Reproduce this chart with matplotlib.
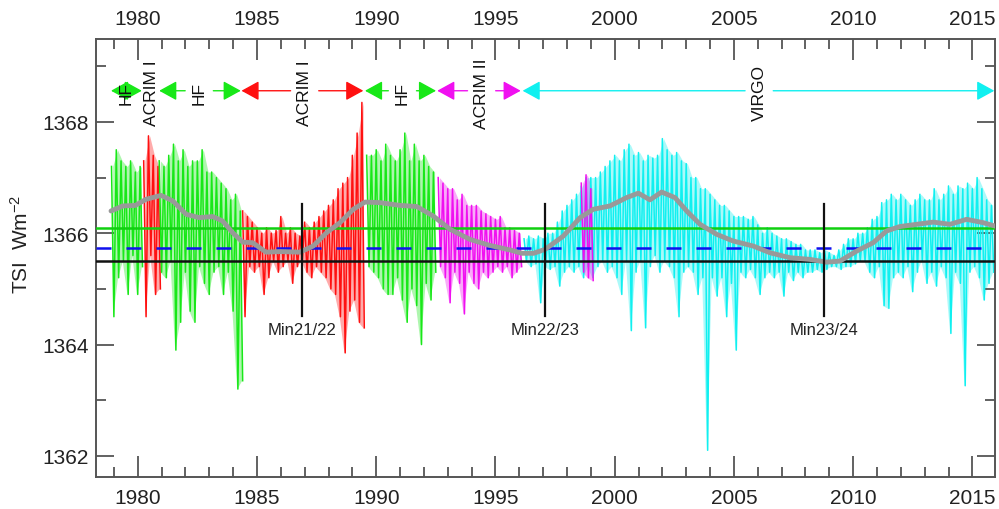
import matplotlib.pyplot as plt
import numpy as np

plt.rcParams['font.family'] = ['Liberation Sans', 'DejaVu Sans']
plt.rcParams['mathtext.fontset'] = 'custom'
plt.rcParams['mathtext.rm'] = 'Liberation Sans'
plt.rcParams['mathtext.it'] = 'Liberation Sans'

hf1_start = 1978.9
hf1_hi = [1367.2, 1367.5, 1367.3, 1367.2, 1367.3, 1367.1, 1367.2]
hf1_lo = [1364.5, 1365.2, 1365.5, 1364.9, 1365.6, 1364.9, 1365.4]

acrim1a_start = 1980.25
acrim1a_hi = [1367.3, 1367.75, 1367.4, 1367.2]
acrim1a_lo = [1364.5, 1365.6, 1364.9, 1365.0]

hf2_start = 1980.9
hf2_hi = [1367.3, 1367.2, 1367.4, 1367.6, 1367.3, 1367.5, 1367.2, 1367.3, 1367.3,
          1367.5, 1367.1, 1367.1, 1367.0, 1366.9, 1366.8, 1366.6, 1366.7, 1366.4]
hf2_lo = [1365.3, 1365.2, 1365.5, 1363.9, 1364.4, 1365.3, 1364.6, 1364.4, 1365.4,
          1365.1, 1364.9, 1365.3, 1365.4, 1364.9, 1365.3, 1364.6, 1363.2, 1363.35]

acrim1b_start = 1984.4
acrim1b_hi = [1366.4, 1366.3, 1366.2, 1366.1, 1366.0, 1366.1, 1366.0, 1366.05, 1366.3,
              1366.0, 1366.1, 1366.0, 1365.95, 1366.2, 1366.1, 1366.2, 1366.3, 1366.4,
              1366.5, 1366.6, 1366.8, 1366.9, 1367.0, 1367.4, 1367.8, 1368.35]
acrim1b_lo = [1364.5, 1365.4, 1365.3, 1365.4, 1364.9, 1365.2, 1365.5, 1365.3, 1365.4,
              1365.5, 1365.1, 1365.4, 1365.5, 1365.3, 1365.2, 1365.4, 1365.3, 1365.2,
              1365.0, 1364.9, 1364.5, 1363.85, 1364.6, 1364.8, 1364.4, 1364.3]

hf3_start = 1989.6
hf3_hi = [1367.4, 1367.4, 1367.5, 1367.3, 1367.6, 1367.4, 1367.3, 1367.5, 1367.8,
          1367.3, 1367.6, 1367.3, 1367.4, 1367.2, 1367.1]
hf3_lo = [1365.4, 1365.3, 1365.2, 1365.0, 1364.9, 1364.9, 1365.2, 1364.8, 1364.4,
          1365.0, 1364.7, 1364.0, 1365.1, 1364.8, 1365.3]

acrim2_start = 1992.6
acrim2_hi = [1367.0, 1366.9, 1366.8, 1366.8, 1366.6, 1366.7, 1366.5, 1366.5, 1366.5,
             1366.4, 1366.35, 1366.3, 1366.25, 1366.3, 1366.1, 1366.1, 1366.05, 1366.0]
acrim2_lo = [1365.4, 1365.2, 1364.75, 1365.3, 1365.1, 1364.55, 1365.3, 1365.1, 1365.0,
             1365.3, 1365.2, 1365.3, 1365.4, 1365.3, 1365.4, 1365.2, 1365.3, 1365.4]

acrim2b_start = 1998.6
acrim2b_hi = [1366.9, 1367.05, 1366.8]
acrim2b_lo = [1365.3, 1365.2, 1365.15]

virgo_start = 1996.2
virgo_hi = [1365.9, 1365.95, 1365.9, 1365.95, 1365.9,
            1366.0, 1366.0, 1366.2, 1366.4, 1366.5,
            1366.6, 1366.7, 1366.85, 1367.0, 1367.0,
            1367.0, 1367.1, 1367.2, 1367.3, 1367.4,
            1367.3, 1367.5, 1367.6, 1367.4, 1367.45,
            1367.3, 1367.4, 1367.35, 1367.4, 1367.7,
            1367.5, 1367.4, 1367.45, 1367.3, 1367.25,
            1367.0, 1367.0, 1366.8, 1366.8, 1366.7,
            1366.6, 1366.5, 1366.5, 1366.4, 1366.3,
            1366.3, 1366.3, 1366.25, 1366.3, 1366.15,
            1366.0, 1366.1, 1366.0, 1365.95, 1365.9,
            1365.9, 1365.85, 1365.8, 1365.8, 1365.7,
            1365.7, 1365.7, 1365.65, 1365.7, 1365.65,
            1365.6, 1365.7, 1365.8, 1365.9, 1365.9,
            1366.0, 1366.0, 1366.1, 1366.25, 1366.3,
            1366.55, 1366.6, 1366.7, 1366.6, 1366.7,
            1366.6, 1366.5, 1366.6, 1366.7, 1366.6,
            1366.6, 1366.8, 1366.6, 1366.7, 1366.85,
            1366.7, 1366.85, 1366.8, 1366.9, 1366.8,
            1367.0, 1366.8, 1366.6, 1366.5]
virgo_lo = [1365.5, 1365.4, 1365.45, 1364.75, 1365.4,
            1365.35, 1365.4, 1365.05, 1365.3, 1365.4,
            1365.3, 1365.4, 1365.2, 1365.4, 1365.2,
            1365.4, 1365.5, 1365.3, 1365.4, 1365.2,
            1364.9, 1365.5, 1364.25, 1365.3, 1365.5,
            1364.3, 1365.4, 1365.6, 1365.3, 1365.5,
            1365.4, 1365.2, 1364.5, 1365.3, 1365.4,
            1365.3, 1364.9, 1365.2, 1362.1, 1365.2,
            1364.87, 1365.2, 1364.5, 1365.1, 1363.9,
            1365.3, 1365.2, 1365.35, 1365.2, 1364.9,
            1365.2, 1365.3, 1365.2, 1365.3, 1364.87,
            1365.3, 1365.15, 1365.3, 1365.2, 1365.3,
            1365.3, 1365.35, 1365.3, 1365.35, 1365.4,
            1365.4, 1365.35, 1365.4, 1365.4, 1365.45,
            1365.5, 1365.5, 1365.3, 1365.2, 1365.4,
            1364.7, 1364.65, 1365.2, 1365.3, 1365.2,
            1365.4, 1364.95, 1365.3, 1365.5, 1365.1,
            1365.3, 1365.05, 1365.4, 1365.2, 1364.2,
            1365.3, 1365.1, 1363.26, 1365.3, 1365.4,
            1365.2, 1364.8, 1365.1, 1365.3]

# 81-day running mean (grey)
smooth_year = [1978.88, 1979.37, 1979.9, 1980.35, 1980.98, 1981.47, 1982.03, 1982.58,
               1983.14, 1983.56, 1983.98, 1984.40, 1984.82, 1985.38, 1985.97, 1986.80,
               1987.36, 1987.92, 1988.48, 1989.04, 1989.53, 1990.16, 1991.00, 1991.70,
               1992.39, 1993.10, 1993.93, 1994.77, 1995.61, 1996.10, 1996.60, 1997.08,
               1997.85, 1998.55, 1999.10, 1999.80, 2000.50, 2000.99, 2001.48, 2001.97,
               2002.53, 2003.02, 2003.58, 2004.28, 2004.97, 2005.81, 2006.51, 2007.35,
               2008.19, 2008.89, 2009.45, 2010.15, 2010.84, 2011.40, 2011.96, 2012.66,
               2013.36, 2014.06, 2014.76, 2015.45, 2015.94]
smooth_tsi = [1366.40, 1366.49, 1366.50, 1366.61, 1366.68, 1366.58, 1366.34, 1366.28,
              1366.30, 1366.22, 1366.01, 1365.84, 1365.83, 1365.66, 1365.67, 1365.66,
              1365.77, 1366.01, 1366.19, 1366.43, 1366.56, 1366.55, 1366.50, 1366.48,
              1366.31, 1366.07, 1365.89, 1365.78, 1365.70, 1365.64, 1365.64, 1365.71,
              1365.95, 1366.28, 1366.43, 1366.49, 1366.64, 1366.72, 1366.60, 1366.74,
              1366.64, 1366.40, 1366.16, 1365.98, 1365.86, 1365.77, 1365.65, 1365.56,
              1365.53, 1365.48, 1365.50, 1365.68, 1365.83, 1366.04, 1366.12, 1366.16,
              1366.20, 1366.16, 1366.25, 1366.19, 1366.13]

# reference levels
level_green = 1366.09
level_blue = 1365.73
level_black = 1365.51

# solar minima
min_year = [1986.88, 1997.08, 2008.78]
min_label = ['Min21/22', 'Min22/23', 'Min23/24']

# instrument periods along the top
inst_name = ['HF', 'ACRIM I', 'HF', 'ACRIM I', 'HF', 'ACRIM II', 'VIRGO']
inst_start = [1978.88, None, 1980.90, 1984.35, 1989.53, 1992.56, 1996.14]
inst_end = [1980.17, None, 1984.32, 1989.46, 1992.51, 1996.06, 2015.92]
inst_label_x = [1979.5, 1980.59, 1982.58, 1987.0, 1991.1, 1994.42, 2006.06]

GREEN = '#18e818'
RED = '#ff1010'
MAGENTA = '#f010f0'
CYAN = '#10f0f0'
inst_color = [GREEN, RED, GREEN, RED, GREEN, MAGENTA, CYAN]

segments = [
    (hf1_start, hf1_hi, hf1_lo, GREEN),
    (acrim1a_start, acrim1a_hi, acrim1a_lo, RED),
    (hf2_start, hf2_hi, hf2_lo, GREEN),
    (acrim1b_start, acrim1b_hi, acrim1b_lo, RED),
    (hf3_start, hf3_hi, hf3_lo, GREEN),
    (acrim2_start, acrim2_hi, acrim2_lo, MAGENTA),
    (virgo_start, virgo_hi, virgo_lo, CYAN),
    (acrim2b_start, acrim2b_hi, acrim2b_lo, MAGENTA),
]

fig = plt.figure(figsize=(9.99, 5.10), dpi=100)
ax = fig.add_axes([0.0961, 0.0627, 0.8999, 0.8589])

for start, hi, lo, col in segments:
    t = start + 0.2 * np.arange(len(hi))
    ax.fill_between(t + 0.05, hi, lo, color=col, alpha=0.35, lw=0, zorder=1)
    x = np.column_stack([t, t + 0.1]).ravel()
    y = np.column_stack([hi, lo]).ravel()
    ax.plot(x, y, color=col, lw=1.1, zorder=2)

ax.axhline(level_green, color='#10d010', lw=1.8, zorder=3)
ax.axhline(level_blue, color='#1010ee', lw=1.8, ls=(0, (6, 6)), zorder=3)
ax.axhline(level_black, color='#111111', lw=1.8, zorder=3)

ax.plot(smooth_year, smooth_tsi, color='#999999', lw=3.5, zorder=4,
        solid_capstyle='round')

for yr, lab in zip(min_year, min_label):
    ax.plot([yr, yr], [1364.52, 1366.52], color='#111111', lw=1.6, zorder=5)
    ax.text(yr, 1364.40, lab, ha='center', va='top', fontsize=12, color='#222222')

row = 1368.56
gap = 0.59
for name, s, e, lx, col in zip(inst_name, inst_start, inst_end, inst_label_x, inst_color):
    if s is not None:
        g = 0.0 if (e - s) < 2 else gap
        for tip, tail in [(s, lx - g), (e, lx + g)]:
            ax.annotate('', xy=(tip, row), xytext=(tail, row),
                        arrowprops=dict(arrowstyle='-|>,head_length=0.6,head_width=0.33',
                                        color=col, lw=1.0, shrinkA=0, shrinkB=0,
                                        mutation_scale=18), zorder=5)
    ax.text(lx, row - 0.03, name, rotation=90, ha='center', va='center',
            fontsize=12.5, color='#111111', zorder=6)

ax.set_xlim(1978.25, 2015.95)
ax.set_ylim(1361.62, 1369.49)
ax.set_xticks(np.arange(1980, 2016, 5))
ax.set_xticks(np.arange(1979, 2016, 1), minor=True)
ax.set_yticks([1362, 1364, 1366, 1368])
ax.set_yticks([1363, 1365, 1367, 1369], minor=True)

spine_col = '#555555'
for sp in ax.spines.values():
    sp.set_color(spine_col)
    sp.set_linewidth(1.4)
ax.tick_params(which='both', direction='in', top=True, right=True,
               labeltop=True, color=spine_col, width=1.3, labelsize=15,
               labelcolor='#222222')
ax.tick_params(axis='x', which='major', length=15, pad=8)
ax.tick_params(axis='x', which='minor', length=7)
ax.tick_params(axis='y', which='major', length=13, pad=5)
ax.tick_params(axis='y', which='minor', length=7)

fig.text(0.021, 0.52, 'TSI  Wm$^{-2}$', rotation=90, ha='center', va='center',
         fontsize=15, color='#222222')

fig.savefig('out.png', dpi=100)
